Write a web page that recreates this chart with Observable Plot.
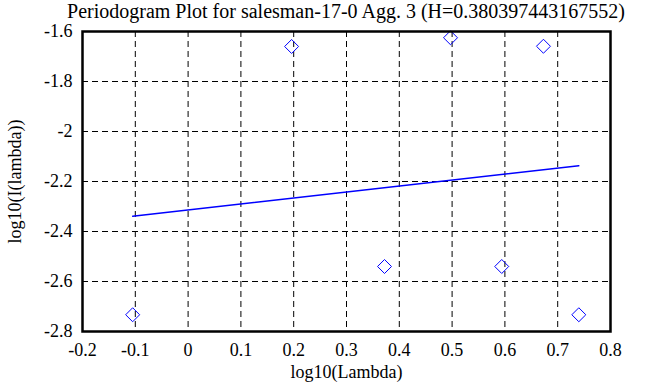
<!DOCTYPE html>
<html>
<head>
<meta charset="utf-8">
<style>
  html, body { margin: 0; padding: 0; background: #fff; }
  #title, #title * { font-family: "Liberation Serif", serif !important; }
  svg { display: block; }
  #chart svg, #chart svg text { font-family: "Liberation Serif", serif !important; }
</style>
<script src="https://cdn.jsdelivr.net/npm/d3@7"></script>
<script src="https://cdn.jsdelivr.net/npm/@observablehq/plot@0.6"></script>
</head>
<body>
<div id="title" style="font-family: 'Liberation Serif', serif; font-size: 20px; line-height: 22px; height: 22px; margin-left: 62px; width: 568px; text-align: center; white-space: nowrap; color: #000;">Periodogram Plot for salesman-17-0 Agg. 3 (H=0.380397443167552)</div>
<div id="chart"></div>
<script>
const titleText = "Periodogram Plot for salesman-17-0 Agg. 3 (H=0.380397443167552)";
const xLabel = "log10(Lambda)";
const yLabel = "log10(I(lambda))";
const logLambda = [-0.105, 0.196, 0.372, 0.497, 0.594, 0.673, 0.740];
const logI = [-2.733, -1.660, -2.540, -1.625, -2.540, -1.659, -2.733];
const fitX = [-0.105, 0.740];
const fitY = [-2.339, -2.137];
const xTicks = [-0.2, -0.1, 0, 0.1, 0.2, 0.3, 0.4, 0.5, 0.6, 0.7, 0.8];
const yTicks = [-2.8, -2.6, -2.4, -2.2, -2, -1.8, -1.6];

const points = logLambda.map((x, i) => ({x, y: logI[i]}));
const fit = fitX.map((x, i) => ({x, y: fitY[i]}));
const fmt = d => String(+d.toFixed(1));
const inner = a => a.slice(1, -1);

const chart = Plot.plot({
  width: 668,
  height: 365,
  marginTop: 9,
  marginLeft: 82,
  marginRight: 58,
  marginBottom: 56,
  style: {fontFamily: "'Liberation Serif', serif", fontSize: "18px", color: "#000", background: "#fff"},
  x: {domain: [-0.2, 0.8]},
  y: {domain: [-2.8, -1.6]},
  marks: [
    Plot.gridX(inner(xTicks), {stroke: "#000", strokeOpacity: 1, strokeWidth: 1, strokeDasharray: "6,4"}),
    Plot.gridY(inner(yTicks), {stroke: "#000", strokeOpacity: 1, strokeWidth: 1, strokeDasharray: "6,4"}),
    Plot.axisX(xTicks, {tickSize: 0, tickPadding: 12, tickFormat: fmt, label: xLabel, labelAnchor: "center", labelArrow: "none", labelOffset: 46, fontSize: 18, fontFamily: "'Liberation Serif', serif"}),
    Plot.axisY(yTicks, {tickSize: 0, tickPadding: 10, tickFormat: fmt, label: yLabel, labelAnchor: "center", labelArrow: "none", labelOffset: 74, fontSize: 18, fontFamily: "'Liberation Serif', serif"}),
    Plot.line(fit, {x: "x", y: "y", stroke: "#0000ff", strokeWidth: 1.5}),
    Plot.dot(points, {x: "x", y: "y", symbol: "diamond2", r: 6.3, stroke: "#0000ff", strokeWidth: 1, fill: "none"}),
    Plot.frame({stroke: "#000", strokeWidth: 2.5})
  ]
});
document.getElementById("chart").appendChild(chart);
</script>
</body>
</html>
